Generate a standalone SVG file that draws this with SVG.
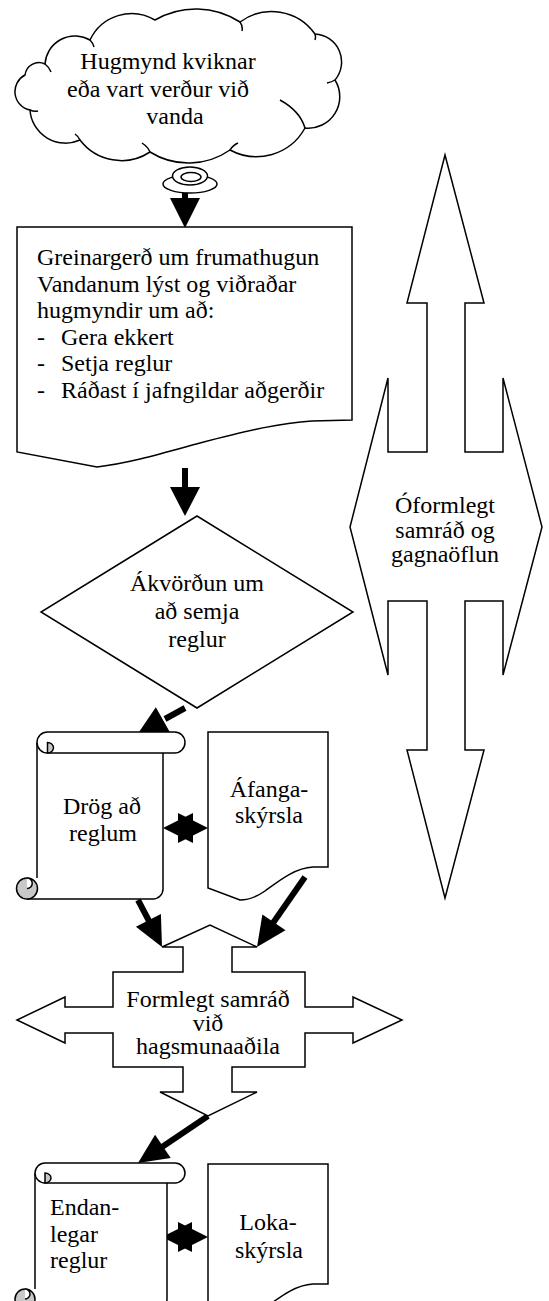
<svg xmlns="http://www.w3.org/2000/svg" width="549" height="1301" viewBox="0 0 549 1301" font-family="'Liberation Serif', 'Times New Roman', 'DejaVu Serif', serif">
<style>
.s{fill:#fff;stroke:#000;stroke-width:1.5;stroke-linejoin:miter}
.l{fill:none;stroke:#000;stroke-width:1.5}
.g{fill:#c8c8c8;stroke:#000;stroke-width:1.5}
.t{font-family:'Liberation Serif', 'Times New Roman', 'DejaVu Serif', serif;font-size:24px;fill:#000}
.m{text-anchor:middle}
.sh{stroke:#000;stroke-width:6;fill:none}
.hd{fill:#000;stroke:none}
</style>
<rect width="549" height="1301" fill="#fff"/>
<g id="connectors">
<line class="sh" x1="185" y1="190" x2="185" y2="200"/>
<polygon class="hd" points="170,198 200,198 185,228"/>
<line class="sh" x1="185" y1="468" x2="185" y2="490"/>
<polygon class="hd" points="170,487 200,487 185,516"/>
<line class="sh" x1="185" y1="708" x2="165" y2="719"/>
<polygon class="hd" points="170.6,733.4 155.8,707.2 137,735"/>
<line class="sh" x1="138" y1="900" x2="149" y2="921"/>
<polygon class="hd" points="160.9,913.9 135.9,926.7 162,947"/>
<line class="sh" x1="305" y1="877" x2="273" y2="923"/>
<polygon class="hd" points="285.5,930.2 262.4,914.4 257,947"/>
<line class="sh" x1="208" y1="1116" x2="162" y2="1147"/>
<polygon class="hd" points="170.7,1157.9 155.1,1134.7 138,1163"/>
<polygon class="hd" points="163,828 193,813 193,843"/>
<polygon class="hd" points="208,828 178,813 178,843"/>
<polygon class="hd" points="162,1237 192,1222 192,1252"/>
<polygon class="hd" points="208,1237 178,1222 178,1252"/>
</g>
<g id="idea">
<path class="s" d="M45,64 A30,30 0 0 1 90,40 A46,46 0 0 1 155,20 A81,81 0 0 1 240,22 A53,53 0 0 1 315,34 A28,28 0 0 1 335,80 A31.5,31.5 0 0 1 305,128 A55.5,55.5 0 0 1 230,150 A72.6,72.6 0 0 1 150,152 A52,52 0 0 1 80,140 A35.5,35.5 0 0 1 30,110 A18.75,18.75 0 0 1 25,75 A14,14 0 0 1 45,64 Z"/>
<path class="l" d="M45,64 q4,3 6,8 M240,22 q3,4 2,9 M315,34 q1,3 0,6 M335,80 q-3,2 -8,3 M305,128 q-5,-17 -25,-28 M230,150 q3,-5 8,-7 M150,152 q-2,-5 -8,-9 M80,140 q-2,-4 -5,-6 M30,110 q4,2 8,1 M90,40 q3,3 4,7"/>
<ellipse class="s" cx="190" cy="184" rx="27" ry="9"/>
<ellipse class="s" cx="190" cy="176" rx="17.5" ry="9"/>
<ellipse class="s" cx="191" cy="177" rx="10" ry="4.5"/>
<text class="t m" x="168" y="69">Hugmynd kviknar</text>
<text class="t m" x="158" y="97">eða vart verður við</text>
<text class="t m" x="175" y="124">vanda</text>
</g>
<g id="report">
<path class="s" d="M17,227 H352 V420 L312,421 C280,423 250,430 200,443 C160,454 130,463 97,467 L17,452 Z"/>
<text class="t" x="37" y="265">Greinargerð um frumathugun</text>
<text class="t" x="37" y="292">Vandanum lýst og viðraðar</text>
<text class="t" x="37" y="318">hugmyndir um að:</text>
<text class="t" x="37" y="345">-</text><text class="t" x="61" y="345">Gera ekkert</text>
<text class="t" x="37" y="371">-</text><text class="t" x="61" y="371">Setja reglur</text>
<text class="t" x="37" y="398">-</text><text class="t" x="61" y="398">Ráðast í jafngildar aðgerðir</text>
</g>
<g id="informal">
<path class="s" d="M445,155 L484,303 L465,303 L465,452 L503,452 L503,378 L542,527 L503,675 L503,601 L465,601 L465,750 L484,750 L445,898 L407,750 L427,750 L427,601 L388,601 L388,675 L350,527 L388,378 L388,452 L427,452 L427,303 L407,303 Z"/>
<text class="t m" x="445" y="513">Óformlegt</text>
<text class="t m" x="445" y="538">samráð og</text>
<text class="t m" x="445" y="562">gagnaöflun</text>
</g>
<g id="decision">
<polygon class="s" points="197,516 353,612 197,708 41,612"/>
<text class="t m" x="197" y="591">Ákvörðun um</text>
<text class="t m" x="197" y="619">að semja</text>
<text class="t m" x="197" y="647">reglur</text>
</g>
<g id="draft">
<rect x="37" y="742" width="126" height="157" fill="#fff"/>
<path class="l" d="M37,742.5 V878 M163,753 V889 A10,10 0 0 1 153,899 H27"/>
<circle class="g" cx="27" cy="888.5" r="10.5"/>
<path class="s" d="M27,878 A5.25,5.25 0 0 1 27,888.5"/>
<path class="s" d="M47.5,732 H174.5 A10.5,10.5 0 0 1 174.5,753 H47.5 A10.5,10.5 0 0 1 47.5,732 Z"/>
<path class="g" d="M47.5,742.5 A6,5.25 0 0 1 47.5,753 Z"/>
<text class="t m" x="102" y="814">Drög að</text>
<text class="t m" x="103" y="841">reglum</text>
</g>
<g id="interim">
<path class="s" d="M208,732 H328 V867 H313 C295,868 280,880 265,891 C255,898 246,900 240,900 L208,888 Z"/>
<text class="t m" x="269" y="797">Áfanga-</text>
<text class="t m" x="269" y="823">skýrsla</text>
</g>
<g id="formal">
<path class="s" d="M162,947 L210,925 L257,947 L232,947 L232,972 L305,972 L305,1007 L353,1007 L353,997 L402,1020 L353,1043 L353,1033 L305,1033 L305,1067 L232,1067 L232,1092 L257,1092 L208,1116 L160,1092 L183,1092 L183,1067 L113,1067 L113,1033 L65,1033 L65,1043 L17,1020 L65,997 L65,1007 L113,1007 L113,972 L183,972 L183,947 Z"/>
<text class="t m" x="208" y="1007">Formlegt samráð</text>
<text class="t m" x="208" y="1031">við</text>
<text class="t m" x="208" y="1054">hagsmunaaðila</text>
</g>
<g id="final">
<rect x="35" y="1173" width="132" height="136" fill="#fff"/>
<path class="l" d="M35,1173 V1289 M167,1183 V1299 A10,10 0 0 1 157,1309 H25"/>
<circle class="g" cx="25" cy="1299" r="10"/>
<path class="s" d="M25,1289 A5,5 0 0 1 25,1299"/>
<path class="s" d="M45,1163 H175 A10,10 0 0 1 175,1183 H45 A10,10 0 0 1 45,1163 Z"/>
<path class="g" d="M45,1173 A6,5 0 0 1 45,1183 Z"/>
<text class="t" x="50" y="1215">Endan-</text>
<text class="t" x="50" y="1242">legar</text>
<text class="t" x="50" y="1268">reglur</text>
</g>
<g id="finalreport">
<path class="s" d="M208,1164 H328 V1284 H313 C295,1285 280,1297 265,1308 C255,1315 246,1317 240,1317 L208,1305 Z"/>
<text class="t m" x="268" y="1230">Loka-</text>
<text class="t m" x="269" y="1258">skýrsla</text>
</g>
</svg>
